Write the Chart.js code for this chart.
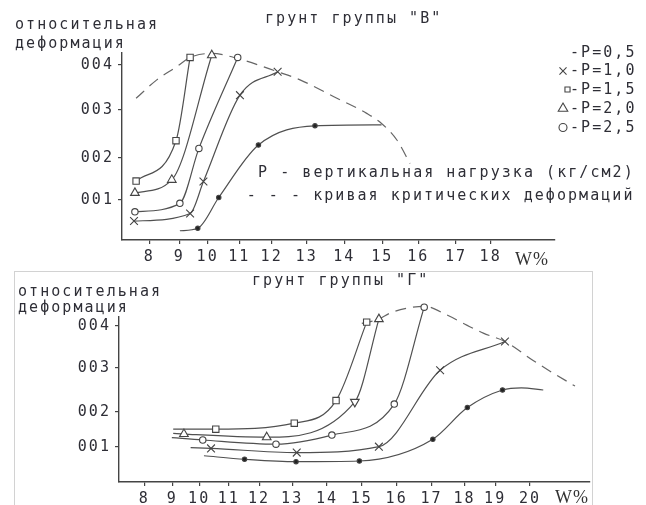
<!DOCTYPE html>
<html>
<head>
<meta charset="utf-8">
<script src="https://cdn.jsdelivr.net/npm/chart.js@4.4.1/dist/chart.umd.min.js"></script>
<style>
  html, body { margin: 0; padding: 0; background: #fff; }
  body { width: 646px; height: 505px; position: relative; overflow: hidden;
         font-family: "DejaVu Sans Mono", monospace; color: #2e2e36; }
  .t { position: absolute; white-space: nowrap; font-size: 15px; line-height: 20px; letter-spacing: 2.05px; }
  .w { position: absolute; white-space: nowrap; font-family: "Liberation Serif", serif;
       font-size: 18px; line-height: 22px; letter-spacing: 1px; color: #333; }
  #frame { position: absolute; left: 14px; top: 271px; width: 577px; height: 260px; border: 1px solid #d2d2d2; }
  canvas { position: absolute; left: 0; }
  #chartV { top: 0; }
  #chartG { top: 271px; }
</style>
</head>
<body>
<div id="frame"></div>
<canvas id="chartV" width="646" height="270"></canvas>
<canvas id="chartG" width="646" height="234"></canvas>
<div id="labels"></div>

<script>
// ---------------- data ----------------
const LOADS = ['P=0,5', 'P=1,0', 'P=1,5', 'P=2,0', 'P=2,5'];
const W_TICKS_V = [8, 9, 10, 11, 12, 13, 14, 15, 16, 17, 18];
const W_TICKS_G = [8, 9, 10, 11, 12, 13, 14, 15, 16, 17, 18, 19, 20];
const E_TICKS = [1, 2, 3, 4];
const E_TICK_LABELS = ['001', '002', '003', '004'];

// грунт группы "В": moisture W (%), relative deformation; mark 1 = measured point
const vW05 = [9.02, 9.65, 10.35, 11.59, 13.22, 14.98];
const vE05 = [0.27, 0.33, 1.06, 2.27, 2.67, 2.69];
const vM05 = [0, 1, 1, 1, 1, 0];
const vW10 = [7.49, 9.38, 9.85, 11.02, 12.17];
const vE10 = [0.50, 0.68, 1.44, 3.33, 3.85];
const vM10 = [1, 1, 1, 1, 1];
const vW15 = [7.56, 8.89, 9.38];
const vE15 = [1.45, 2.36, 4.17];
const vM15 = [1, 1, 1];
const vW20 = [7.52, 8.75, 10.13];
const vE20 = [1.17, 1.48, 4.22];
const vM20 = [1, 1, 1];
const vW25 = [7.52, 9.02, 9.69, 10.95];
const vE25 = [0.72, 0.92, 2.20, 4.17];
const vM25 = [1, 1, 1, 1];
const vCritW = [7.56, 8.25, 8.91, 9.38, 10.13, 11.02, 12.17, 12.81, 13.71, 14.59, 14.98, 15.40, 15.77];
const vCritE = [3.26, 3.67, 3.96, 4.17, 4.26, 4.13, 3.85, 3.67, 3.30, 2.93, 2.72, 2.38, 1.87];

// грунт группы "Г"
const gW05 = [10.16, 11.52, 13.11, 14.93, 17.04, 18.09, 19.21, 19.75, 20.38];
const gE05 = [0.75, 0.65, 0.58, 0.60, 1.22, 2.10, 2.50, 2.55, 2.50];
const gM05 = [0, 1, 1, 1, 1, 1, 1, 0, 0];
const gW10 = [9.68, 10.40, 13.13, 15.49, 17.26, 19.28];
const gE10 = [0.98, 0.96, 0.84, 1.01, 2.95, 3.63];
const gM10 = [0, 1, 1, 1, 1, 1];
const gW15 = [9.03, 10.56, 13.06, 14.26, 15.14];
const gE15 = [1.51, 1.51, 1.68, 2.26, 4.09];
const gM15 = [0, 1, 1, 1, 1];
const gW20 = [9.03, 9.43, 12.23, 14.80, 15.49];
const gE20 = [1.39, 1.37, 1.28, 2.23, 4.16];
const gM20 = [0, 1, 1, 1, 1];
const gW25 = [8.98, 10.12, 12.51, 14.14, 15.93, 16.79];
const gE25 = [1.27, 1.20, 1.08, 1.34, 2.18, 4.44];
const gM25 = [0, 1, 1, 1, 1, 1];
const gCritW = [15.00, 15.49, 15.81, 16.33, 16.79, 17.46, 18.07, 18.61, 19.28, 20.09, 20.67, 21.29];
const gCritE = [4.06, 4.16, 4.30, 4.42, 4.46, 4.26, 4.02, 3.83, 3.63, 3.18, 2.88, 2.59];

// ---------------- layout / style ----------------
// graduation spacing of the hand-ruled axes (px from the axis origin)
const V_X_SCALE = { values: [7.09, 8, 9, 10, 11, 12, 13, 14, 15, 16, 17, 18, 19.85],
                    offsets: [0, 27.3, 57.3, 85.7, 117.3, 149.7, 184.7, 222.3, 260.3, 296.3, 334, 368.7, 433] };
const V_Y_SCALE = { values: [0.05, 1, 2, 3, 4, 4.27], offsets: [0, 40, 82, 130, 175, 187] };
const G_X_SCALE = { values: [7.11, 8, 9, 10, 11, 12, 13, 14, 15, 16, 17, 18, 19, 20, 21.72],
                    offsets: [0, 25.2, 53.4, 80.2, 109.8, 140.1, 173.2, 208, 242.8, 277.7, 312.5, 345.6, 376.2, 411, 471] };
const G_Y_SCALE = { values: [0, 1, 2, 3, 4, 4.21], offsets: [0, 35, 70, 114, 156, 165] };

const FONT = '"DejaVu Sans Mono", monospace';
const TEXT = '#2e2e36';
const INK = '#444';
const CURVE = '#505050';
const MARKERS = [
  { style: 'circle',   r: 2.2, fill: '#222' },
  { style: 'crossRot', r: 5.5, fill: '#fff' },
  { style: 'rect',     r: 4.5, fill: '#fff' },
  { style: 'triangle', r: 5,   fill: '#fff' },
  { style: 'circle',   r: 3.2, fill: '#fff' }
];

// Linear axis whose graduations follow an uneven, hand-ruled spacing
class KnottedScale extends Chart.LinearScale {
  configure() {
    super.configure();
    const k = this.options.knots;
    this._kv = Array.from(k.values);
    this._ko = Array.from(k.offsets);
  }
  _frac(v) {
    const a = this._kv, o = this._ko, n = a.length;
    let i = 1;
    while (i < n - 1 && v > a[i]) i++;
    const off = o[i - 1] + (v - a[i - 1]) * (o[i] - o[i - 1]) / (a[i] - a[i - 1]);
    return (off - o[0]) / (o[n - 1] - o[0]);
  }
  getPixelForValue(value) {
    if (value === null || value === undefined || isNaN(value)) return NaN;
    return this.getPixelForDecimal(this._frac(value));
  }
  getValueForPixel(pixel) {
    const a = this._kv, o = this._ko, n = a.length;
    const off = o[0] + this.getDecimalForPixel(pixel) * (o[n - 1] - o[0]);
    let i = 1;
    while (i < n - 1 && off > o[i]) i++;
    return a[i - 1] + (off - o[i - 1]) * (a[i] - a[i - 1]) / (o[i] - o[i - 1]);
  }
}
KnottedScale.id = 'knotted';
KnottedScale.defaults = Chart.LinearScale.defaults;
Chart.register(KnottedScale);

const spacing = { id: 'spacing', beforeDraw(chart) { chart.ctx.letterSpacing = '2.05px'; } };

// curves peak slightly above the ruled top of the axis: let their markers show there too
const headroom = {
  id: 'headroom',
  beforeDatasetsDraw(chart) { chart.chartArea.top -= 20; },
  afterDatasetsDraw(chart) { chart.chartArea.top += 20; }
};

function series(w, e, m, i, rot) {
  const mk = MARKERS[i];
  return {
    label: LOADS[i],
    data: w.map((x, j) => ({ x: x, y: e[j] })),
    borderColor: CURVE, borderWidth: 1.2, fill: false, clip: false,
    cubicInterpolationMode: 'monotone',
    pointStyle: mk.style,
    pointRadius: m.map(f => (f ? mk.r : 0)),
    pointRotation: rot || 0,
    pointBackgroundColor: mk.fill, pointBorderColor: INK, pointBorderWidth: 1.1
  };
}
function critical(w, e) {
  return {
    label: 'крит.',
    data: w.map((x, j) => ({ x: x, y: e[j] })),
    borderColor: '#666', borderWidth: 1.2, borderDash: [11, 7], fill: false, clip: false,
    cubicInterpolationMode: 'monotone', pointRadius: 0
  };
}
function axes(xs, ys, xTicks, xH, yW) {
  const grid = { drawOnChartArea: false, drawTicks: true, tickLength: 4, color: INK, lineWidth: 1.2 };
  const border = { display: true, color: INK, width: 1.4 };
  return {
    x: {
      type: 'knotted', knots: xs, min: xs.values[0], max: xs.values[xs.values.length - 1],
      afterBuildTicks: s => { s.ticks = xTicks.map(v => ({ value: v })); },
      afterFit: s => { s.height = xH; },
      ticks: { autoSkip: false, maxRotation: 0, padding: 4, color: TEXT,
               font: { family: FONT, size: 15 }, callback: v => String(v) },
      grid: grid, border: border
    },
    y: {
      type: 'knotted', knots: ys, min: ys.values[0], max: ys.values[ys.values.length - 1],
      afterBuildTicks: s => { s.ticks = E_TICKS.map(v => ({ value: v })); },
      afterFit: s => { s.width = yW; },
      ticks: { autoSkip: false, padding: 4, color: TEXT,
               font: { family: FONT, size: 15 }, callback: (v, i) => E_TICK_LABELS[i] },
      grid: grid, border: border
    }
  };
}

// legend markers beside the load list (first entry has no marker)
const LEGEND_MARKS = [null, { x: 563, y: 71, r: 5 }, { x: 567.5, y: 89.5, r: 3.6 },
                      { x: 563, y: 108.5, r: 5.5 }, { x: 563, y: 127.5, r: 4 }];
const legendMarks = {
  id: 'legendMarks',
  afterDraw(chart) {
    const ctx = chart.ctx;
    ctx.save();
    ctx.strokeStyle = INK; ctx.fillStyle = '#fff'; ctx.lineWidth = 1.1;
    LEGEND_MARKS.forEach((p, i) => {
      if (!p) return;
      Chart.helpers.drawPoint(ctx, { pointStyle: MARKERS[i].style, radius: p.r, rotation: 0, borderWidth: 1.1 }, p.x, p.y);
    });
    ctx.restore();
  }
};

new Chart(document.getElementById('chartV'), {
  type: 'line',
  data: { datasets: [
    series(vW05, vE05, vM05, 0), series(vW10, vE10, vM10, 1), series(vW15, vE15, vM15, 2),
    series(vW20, vE20, vM20, 3), series(vW25, vE25, vM25, 4), critical(vCritW, vCritE)
  ] },
  options: {
    responsive: false, animation: false, events: [],
    layout: { padding: { left: 0, top: 53, right: 91, bottom: 0 } },
    plugins: { legend: { display: false }, tooltip: { enabled: false } },
    scales: axes(V_X_SCALE, V_Y_SCALE, W_TICKS_V, 30, 122)
  },
  plugins: [spacing, headroom, legendMarks]
});

new Chart(document.getElementById('chartG'), {
  type: 'line',
  data: { datasets: [
    series(gW05, gE05, gM05, 0), series(gW10, gE10, gM10, 1), series(gW15, gE15, gM15, 2),
    series(gW20, gE20, gM20, 3, [0, 0, 0, 180, 0]), series(gW25, gE25, gM25, 4), critical(gCritW, gCritE)
  ] },
  options: {
    responsive: false, animation: false, events: [],
    layout: { padding: { left: 0, top: 46, right: 56, bottom: 0 } },
    plugins: { legend: { display: false }, tooltip: { enabled: false } },
    scales: axes(G_X_SCALE, G_Y_SCALE, W_TICKS_G, 23, 119)
  },
  plugins: [spacing, headroom]
});

// ---------------- captions ----------------
const holder = document.getElementById('labels');
function put(text, left, baseline, cls) {
  const d = document.createElement('div');
  d.className = cls || 't';
  d.textContent = text;
  d.style.left = left + 'px';
  d.style.top = (baseline - (cls === 'w' ? 17 : 15.2)) + 'px';
  holder.appendChild(d);
}
put('относительная', 15, 29.5);
put('деформация', 15, 48);
put('грунт группы "В"', 265, 23.5);
put('P - вертикальная нагрузка (кг/см2)', 258, 177);
put('- - - кривая критических деформаций', 246.7, 200.5);
put('W%', 515, 265, 'w');
const LEGEND_BASELINES = [56.7, 75, 94.5, 113, 131.7];
LOADS.forEach((p, i) => put('-' + p, 570, LEGEND_BASELINES[i]));

put('относительная', 18, 296);
put('деформация', 18, 312.5);
put('грунт группы "Г"', 252, 285);
put('W%', 555, 503, 'w');
</script>
</body>
</html>
